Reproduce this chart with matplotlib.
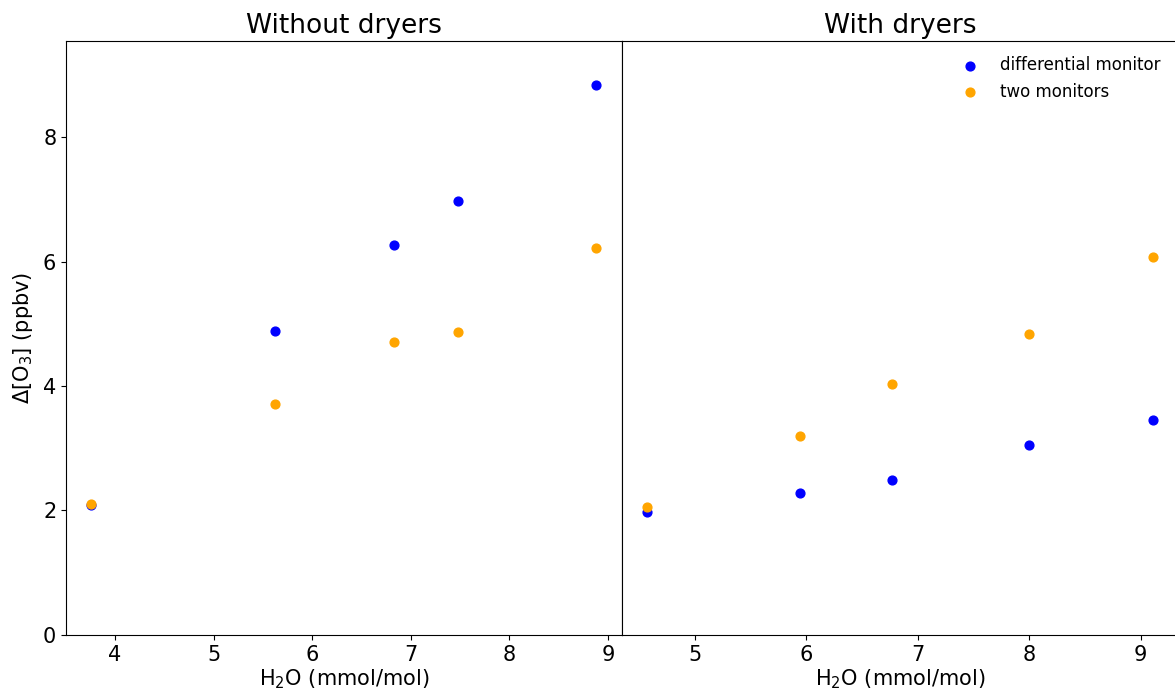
import matplotlib
matplotlib.use("Agg")
import matplotlib.pyplot as plt

# Without dryers
h2o_dry_off = [3.76, 5.62, 6.83, 7.48, 8.88]
diff_dry_off = [2.08, 4.89, 6.27, 6.98, 8.83]
two_dry_off = [2.10, 3.71, 4.71, 4.87, 6.22]

# With dryers
h2o_dry_on = [4.57, 5.94, 6.77, 8.00, 9.11]
diff_dry_on = [1.97, 2.28, 2.49, 3.05, 3.45]
two_dry_on = [2.06, 3.20, 4.03, 4.83, 6.08]

fig, (ax1, ax2) = plt.subplots(1, 2, figsize=(11.75, 7), dpi=100, sharey=True)
fig.subplots_adjust(left=0.0562, right=1.0026, bottom=0.093, top=0.941, wspace=0)

ax1.scatter(h2o_dry_off, diff_dry_off, color="blue", s=40, label="differential monitor")
ax1.scatter(h2o_dry_off, two_dry_off, color="orange", s=40, label="two monitors")
ax2.scatter(h2o_dry_on, diff_dry_on, color="blue", s=40, label="differential monitor")
ax2.scatter(h2o_dry_on, two_dry_on, color="orange", s=40, label="two monitors")

ax1.set_xlim(3.503, 9.142)
ax2.set_xlim(4.345, 9.335)
ax1.set_ylim(0, 9.54)

ax1.set_title("Without dryers", fontsize=19)
ax2.set_title("With dryers", fontsize=19)
ax1.set_xlabel("H$_2$O (mmol/mol)", fontsize=15, labelpad=2)
ax2.set_xlabel("H$_2$O (mmol/mol)", fontsize=15, labelpad=2)
ax1.set_ylabel(r"$\Delta$[O$_3$] (ppbv)", fontsize=15, labelpad=6)

ax1.tick_params(labelsize=15)
ax2.tick_params(labelsize=15)
ax2.tick_params(axis="y", left=False, labelleft=False)

ax2.legend(frameon=False, fontsize=12, loc="upper right", bbox_to_anchor=(0.995, 1.0))

plt.savefig("out.png")
